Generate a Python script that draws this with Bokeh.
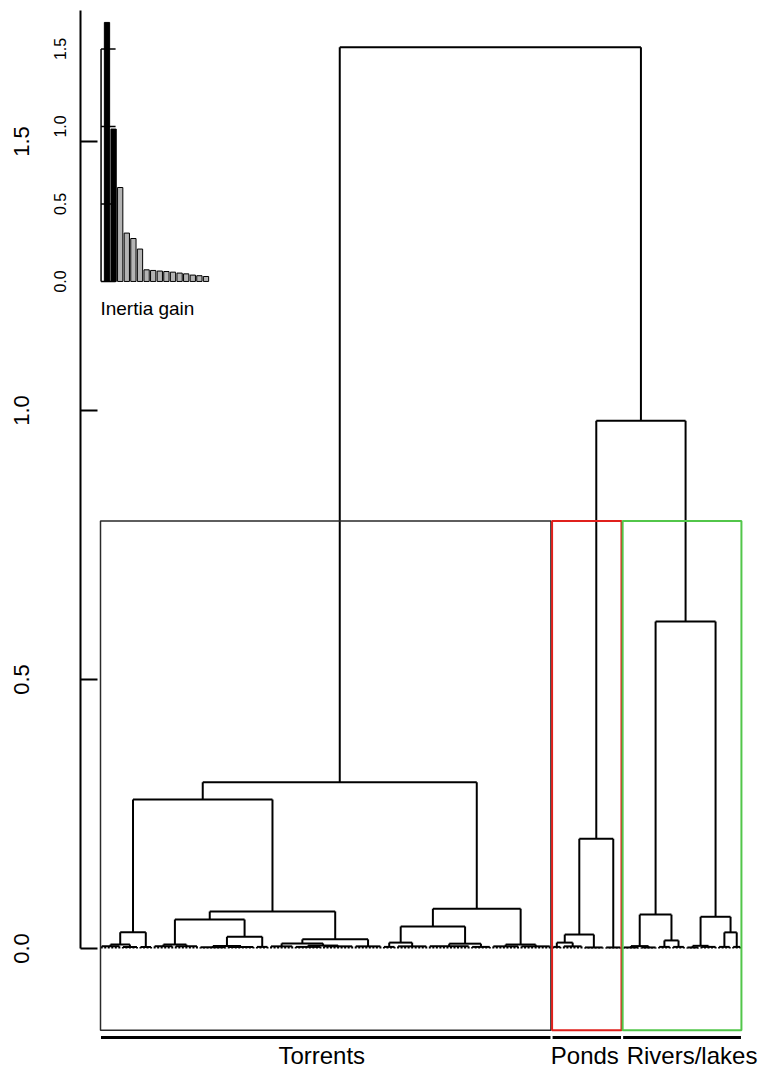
import math
from bokeh.plotting import figure
from bokeh.models import (Range1d, FixedTicker, NumeralTickFormatter, Label,
                          ColumnDataSource, LinearAxis)
from bokeh.embed import file_html
from bokeh.resources import INLINE

# ---------------- data ----------------
# tight leaf groups (left to right): number of leaves and merge height of the group
group_size = [6, 5, 4, 6, 7, 8, 8, 4, 7, 8, 9, 8, 4, 9, 12, 6, 8, 9,
              3, 6, 6, 5,
              5, 5, 4, 4, 4, 5, 4, 3]
group_height = [0.004, 0.003, 0.003, 0.004, 0.004, 0.0025, 0.003, 0.003, 0.004, 0.003,
                0.004, 0.004, 0.003, 0.004, 0.004, 0.003, 0.004, 0.004,
                0.003, 0.004, 0.002, 0.002,
                0.002, 0.002, 0.003, 0.003, 0.002, 0.003, 0.003, 0.003]
# hclust-like merges: negative = group number, positive = earlier merge row
merge_left = [-1, 1, -4, -6, 4, 3, -10, -9, 8, 6, 2, -13, -15, 12, -17, 14, 11,
              -19, 18, 19, -23, -25, 21, -27, -29, 24, 23, 20, 17]
merge_right = [-2, -3, -5, -7, -8, 5, -11, 7, -12, 9, 10, -14, -16, 13, -18, 15, 16,
               -20, -21, -22, -24, -26, 22, -28, -30, 25, 26, 27, 28]
merge_height = [0.0074, 0.030, 0.0074, 0.0045, 0.022, 0.054, 0.0055, 0.0095, 0.017, 0.069,
                0.277, 0.011, 0.009, 0.041, 0.0074, 0.074, 0.309,
                0.011, 0.026, 0.204, 0.0045, 0.015, 0.063, 0.005, 0.030, 0.059,
                0.608, 0.981, 1.675]

cluster_names = ["Torrents", "Ponds", "Rivers/lakes"]
cluster_sizes = [128, 20, 34]
cluster_colors = ["#2a2a2a", "#e0201c", "#52c64a"]

inertia_gain = [1.671, 0.983, 0.606, 0.312, 0.277, 0.209, 0.075, 0.071, 0.067, 0.064,
                0.060, 0.054, 0.049, 0.041, 0.037, 0.032]
y_ticks = [0.0, 0.5, 1.0, 1.5]
inertia_ticks = [0.0, 0.5, 1.0, 1.5]

FONT = "Liberation Sans"

# ---------------- dendrogram layout ----------------
x0s, y0s, x1s, y1s = [], [], [], []
group_pos = []
start = 1
for n, h in zip(group_size, group_height):
    xs = list(range(start, start + n))
    for x in xs:
        x0s.append(x); y0s.append(0.0); x1s.append(x); y1s.append(h)
    x0s.append(xs[0]); y0s.append(h); x1s.append(xs[-1]); y1s.append(h)
    group_pos.append(((xs[0] + xs[-1]) / 2.0, h))
    start += n
n_leaves = start - 1

node_pos = []
def pos(ref):
    return group_pos[-ref - 1] if ref < 0 else node_pos[ref - 1]

for l, r, h in zip(merge_left, merge_right, merge_height):
    (xl, hl), (xr, hr) = pos(l), pos(r)
    x0s += [xl, xr, xl]; y0s += [hl, hr, h]
    x1s += [xl, xr, xr]; y1s += [h, h, h]
    node_pos.append(((xl + xr) / 2.0, h))

dendro = ColumnDataSource(dict(x0=x0s, y0=y0s, x1=x1s, y1=y1s))

# ---------------- figure ----------------
p = figure(width=764, height=1071, output_backend="svg", toolbar_location=None,
           x_range=Range1d(-5.009, 188.87), y_range=Range1d(-0.2286, 1.7435),
           x_axis_location=None, min_border_left=80, min_border_right=0,
           min_border_top=10, min_border_bottom=0)
p.grid.visible = False
p.outline_line_color = None
p.background_fill_color = "white"
p.border_fill_color = "white"

p.extra_x_ranges = {"bars": Range1d(-3.015, 100.62)}
p.extra_y_ranges = {"inertia": Range1d(-5.097, 1.748)}

# main axis line + inward ticks (nearest the frame)
ax = p.yaxis[0]
ax.bounds = (0, 1.7435)
ax.ticker = FixedTicker(ticks=y_ticks)
ax.formatter = NumeralTickFormatter(format="0.0")
ax.major_tick_in = 17
ax.major_tick_out = 0
ax.minor_tick_in = 0
ax.minor_tick_out = 0
ax.axis_line_width = 2
ax.major_tick_line_width = 2
ax.major_label_text_color = None
ax.major_label_text_font_size = "1px"
ax.major_label_standoff = 0

# inset (inertia) tick labels
ax_in = LinearAxis(y_range_name="inertia", ticker=FixedTicker(ticks=inertia_ticks),
                   formatter=NumeralTickFormatter(format="0.0"),
                   axis_line_color=None, major_tick_line_color=None,
                   minor_tick_line_color=None, major_tick_out=0, major_tick_in=0,
                   major_label_orientation="parallel", major_label_standoff=14,
                   major_label_text_font=FONT, major_label_text_font_size="16px",
                   major_label_text_color="black")
p.add_layout(ax_in, "left")

# main tick labels
ax_lab = LinearAxis(ticker=FixedTicker(ticks=y_ticks),
                    formatter=NumeralTickFormatter(format="0.0"),
                    axis_line_color=None, major_tick_line_color=None,
                    minor_tick_line_color=None, major_tick_out=0, major_tick_in=0,
                    major_label_orientation="parallel", major_label_standoff=22,
                    major_label_text_font=FONT, major_label_text_font_size="22px",
                    major_label_text_color="black")
p.add_layout(ax_lab, "left")

# dendrogram
p.segment(x0="x0", y0="y0", x1="x1", y1="y1", source=dendro,
          line_color="black", line_width=2)

# cluster boxes, brackets, names
box_top = sum(sorted(merge_height, reverse=True)[1:3]) / 2.0
first = 1
name_offsets = [-4, -2, 10]
for name, size, col, off in zip(cluster_names, cluster_sizes, cluster_colors, name_offsets):
    last = first + size - 1
    lw = 1.5 if name == "Torrents" else 2
    p.quad(left=first - 0.34, right=last + 0.33, bottom=-0.152, top=box_top,
           fill_color=None, line_color=col, line_width=lw)
    p.segment(x0=first - 0.2, y0=-0.1654, x1=last + 0.2, y1=-0.1654,
              line_color="black", line_width=3)
    p.add_layout(Label(x=(first + last) / 2.0, y=-0.199, text=name, x_offset=off,
                       text_align="center", text_baseline="middle",
                       text_font=FONT, text_font_size="24px", text_color="black"))
    first = last + 1

# inset: inertia gain barplot
bar_x = list(range(1, len(inertia_gain) + 1))
bar_cols = ["black" if i < len(cluster_names) - 1 else "#b4b4b4" for i in range(len(inertia_gain))]
bars = ColumnDataSource(dict(x=bar_x, top=inertia_gain, color=bar_cols))
p.vbar(x="x", top="top", bottom=0, width=0.8, source=bars, fill_color="color",
       line_color="black", line_width=1,
       x_range_name="bars", y_range_name="inertia")
p.segment(x0=0.1, y0=0, x1=0.1, y1=max(inertia_ticks), line_color="black", line_width=1.5,
          x_range_name="bars", y_range_name="inertia")
p.segment(x0=[0.1] * len(inertia_ticks), y0=inertia_ticks, x1=[2.3] * len(inertia_ticks),
          y1=inertia_ticks, line_color="black", line_width=1.5,
          x_range_name="bars", y_range_name="inertia")
p.add_layout(Label(x=0.0, y=-0.174, text="Inertia gain",
                   x_range_name="bars", y_range_name="inertia",
                   text_align="left", text_baseline="middle",
                   text_font=FONT, text_font_size="19px", text_color="black"))

open("out.html", "w").write(file_html(p, INLINE))
